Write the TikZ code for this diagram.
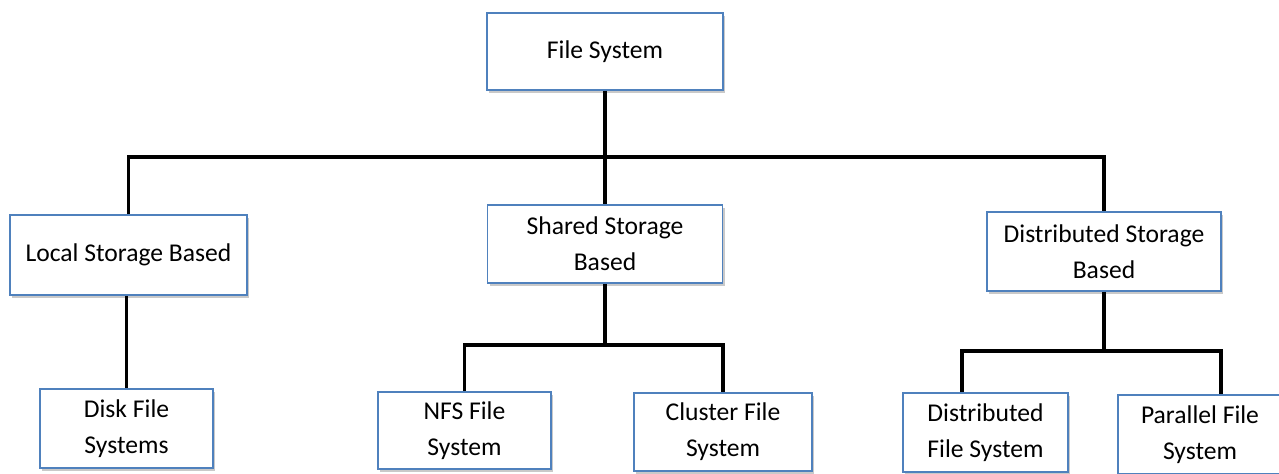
\documentclass[tikz,border=0pt]{standalone}
\usepackage{fontspec}
\setmainfont{Carlito}
\usetikzlibrary{shadows}
\definecolor{boxblue}{RGB}{79,129,189}
\begin{document}
\begin{tikzpicture}[x=0.5pt, y=-0.5pt,
    box/.style={draw=boxblue, line width=0.8pt, fill=white, align=center,
      inner sep=0pt, font=\fontsize{12.8}{18}\selectfont,
      drop shadow={shadow xshift=1pt, shadow yshift=-1.5pt, opacity=0.3, fill=black!70}},
    link/.style={line width=1.75pt, line join=miter}]
    \clip (0,0) rectangle (1279,473);

    % root and the three storage kinds
    \node[box, minimum width=118pt, minimum height=38.5pt] (fs) at (605,51.5) {File System};
    \node[box, minimum width=118.5pt, minimum height=40pt] (lsb) at (128.5,255) {Local Storage Based};
    \node[box, minimum width=117.5pt, minimum height=39pt] (ssb) at (605,244) {Shared Storage\\Based};
    \node[box, minimum width=117pt, minimum height=39.5pt] (dsb) at (1104,251.5) {Distributed Storage\\Based};

    % leaves
    \node[box, minimum width=86.5pt, minimum height=39.5pt] (disk) at (126.5,428.5) {Disk File\\Systems};
    \node[box, minimum width=86.5pt, minimum height=38.5pt] (nfs) at (464.5,430.5) {NFS File\\System};
    \node[box, minimum width=89pt, minimum height=39pt] (cfs) at (723,432) {Cluster File\\System};
    \node[box, minimum width=82.5pt, minimum height=39.5pt] (dist) at (985.5,432.5) {Distributed\\File System};
    \node[box, minimum width=82pt, minimum height=39.5pt] (pfs) at (1200,434.5) {Parallel File\\System};

    \coordinate (bar1) at (0,157);
    \coordinate (bar2) at (0,345);
    \coordinate (bar3) at (962,351);
    \coordinate (bar3r) at (1221,351);

    \draw[link] (fs) -- (ssb);
    \draw[link] (lsb.north) -- (lsb.north |- bar1) -- (dsb.north |- bar1) -- (dsb.north);
    \draw[link] (disk.north |- lsb.south) -- (disk.north);

    \draw[link] (ssb.south) -- (ssb.south |- bar2);
    \draw[link] (nfs.north) -- (nfs.north |- bar2) -- (cfs.north |- bar2) -- (cfs.north);

    \draw[link] (dsb.south) -- (dsb.south |- bar3);
    \draw[link] (dist.north -| bar3) -- (bar3) -- (bar3r) -- (pfs.north -| bar3r);
\end{tikzpicture}
\end{document}
